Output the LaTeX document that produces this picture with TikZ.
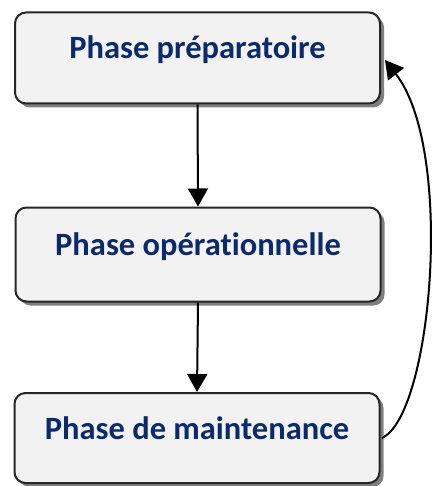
\documentclass[tikz,border=0pt]{standalone}
\usepackage{fontspec}
\setmainfont{Carlito}[Ligatures=NoCommon]
\usetikzlibrary{arrows.meta,shadows}
\definecolor{boxfill}{HTML}{F2F2F2}
\definecolor{boxtext}{HTML}{0B2A6E}
\definecolor{shadowgray}{HTML}{7F7F7F}
\begin{document}
\begin{tikzpicture}[x=1pt,y=-1pt,
  phasebox/.style={draw=black!85, line width=2pt, fill=boxfill,
    rounded corners=11pt, minimum width=365pt,
    text=boxtext, font=\fontsize{32.5}{38}\selectfont\bfseries,
    text height=20pt, text depth=18pt,
    drop shadow={shadow xshift=4pt, shadow yshift=-4pt, fill=shadowgray, opacity=1}},
  flow/.style={line width=2pt, -{Triangle[width=20pt,length=18pt]}}]
  \useasboundingbox (0,0) rectangle (432,486);
  \node[phasebox, minimum height=91pt] (prep) at (197.5,58) {Phase préparatoire};
  \node[phasebox, minimum height=94pt] (oper) at (198,254.5) {Phase opérationnelle};
  \node[phasebox, minimum height=90pt] (maint) at (197,438) {Phase de maintenance};
  \draw[flow] (prep.south) -- (oper.north);
  \draw[flow] (oper.south) -- (maint.north);
  \coordinate (loopout) at (382,438);
  \coordinate (loopin) at (385,60);
  \draw[flow] (loopout) .. controls (432,415) and (455,150) .. (loopin);
\end{tikzpicture}
\end{document}
